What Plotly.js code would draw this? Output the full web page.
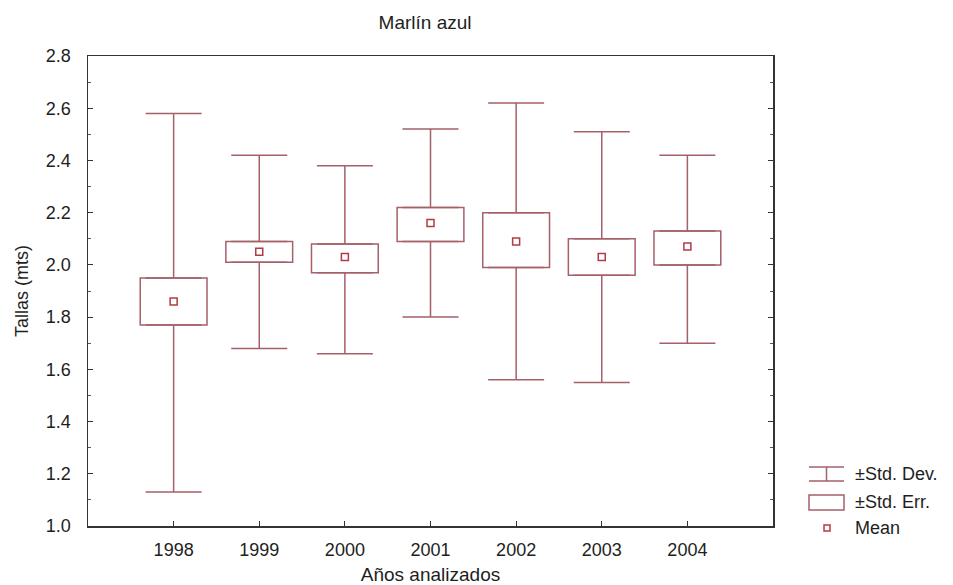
<!DOCTYPE html>
<html>
<head>
<meta charset="utf-8">
<script src="https://cdn.plot.ly/plotly-3.0.1.min.js"></script>
<style>html,body{margin:0;padding:0;background:#fff;}#chart{width:953px;height:585px;}</style>
</head>
<body>
<div id="chart"></div>
<script>
// Data (Tallas en metros)
var years = ['1998', '1999', '2000', '2001', '2002', '2003', '2004'];
var meanVals = [1.86, 2.05, 2.03, 2.16, 2.09, 2.03, 2.07];
var seLow  = [1.77, 2.01, 1.97, 2.09, 1.99, 1.96, 2.00];
var seHigh = [1.95, 2.09, 2.08, 2.22, 2.20, 2.10, 2.13];
var sdLow  = [1.13, 1.68, 1.66, 1.80, 1.56, 1.55, 1.70];
var sdHigh = [2.58, 2.42, 2.38, 2.52, 2.62, 2.51, 2.42];
var legendLabels = ['\u00b1Std. Dev.', '\u00b1Std. Err.', 'Mean'];

var markColor = '#a5606a';
var meanColor = '#b23c44';
var fontFam = '"Liberation Sans", Arial, sans-serif';
var txtColor = '#1e1e1e';

var seSpan = years.map(function (_, i) { return seHigh[i] - seLow[i]; });
var upExt = years.map(function (_, i) { return sdHigh[i] - seHigh[i]; });
var downExt = years.map(function (_, i) { return seLow[i] - sdLow[i]; });
var zeros = years.map(function () { return 0; });

// ±Std. Err. boxes
var seTrace = {
  type: 'bar',
  x: years,
  y: seSpan,
  base: seLow,
  width: 0.78,
  marker: {color: '#ffffff', line: {color: markColor, width: 1.5}},
  showlegend: false,
  hoverinfo: 'skip'
};

var capHalf = 28;
// ±Std. Dev. whiskers (upper part, from box top)
var sdUpTrace = {
  type: 'scatter', mode: 'markers',
  x: years, y: seHigh,
  marker: {size: 0.1, opacity: 0},
  error_y: {type: 'data', symmetric: false, array: upExt, arrayminus: zeros,
            width: capHalf, thickness: 1.5, color: markColor},
  showlegend: false, hoverinfo: 'skip'
};
// lower part, from box bottom
var sdDownTrace = {
  type: 'scatter', mode: 'markers',
  x: years, y: seLow,
  marker: {size: 0.1, opacity: 0},
  error_y: {type: 'data', symmetric: false, array: zeros, arrayminus: downExt,
            width: capHalf, thickness: 1.5, color: markColor},
  showlegend: false, hoverinfo: 'skip'
};

var meanTrace = {
  type: 'scatter',
  mode: 'markers',
  x: years,
  y: meanVals,
  marker: {symbol: 'square-open', size: 7, color: meanColor, line: {width: 1.5, color: meanColor}},
  showlegend: false,
  hoverinfo: 'skip'
};

// legend drawn in paper coordinates
var L = 88, R = 773, T = 56, B = 526;
function px(x) { return (x - L) / (R - L); }
function py(y) { return (B - y) / (B - T); }

var shapes = [
  {type: 'line', xref: 'paper', yref: 'paper', x0: px(809), x1: px(844), y0: py(467), y1: py(467), line: {color: markColor, width: 1.5}},
  {type: 'line', xref: 'paper', yref: 'paper', x0: px(809), x1: px(844), y0: py(481), y1: py(481), line: {color: markColor, width: 1.5}},
  {type: 'line', xref: 'paper', yref: 'paper', x0: px(826.5), x1: px(826.5), y0: py(467), y1: py(481), line: {color: markColor, width: 1.5}},
  {type: 'rect', xref: 'paper', yref: 'paper', x0: px(809), x1: px(844), y0: py(495), y1: py(510), line: {color: markColor, width: 1.5}, fillcolor: 'rgba(0,0,0,0)'},
  {type: 'rect', xref: 'paper', yref: 'paper', x0: px(824), x1: px(830), y0: py(525), y1: py(531), line: {color: meanColor, width: 1.5}, fillcolor: 'rgba(0,0,0,0)'}
];

var legendY = [474, 502, 528];
var annotations = legendLabels.map(function (t, i) {
  return {
    text: t, xref: 'paper', yref: 'paper', x: px(853), y: py(legendY[i]),
    xanchor: 'left', yanchor: 'middle', showarrow: false,
    font: {family: fontFam, size: 18, color: txtColor}
  };
});

var layout = {
  width: 953, height: 585,
  margin: {l: L, r: 953 - R, t: T, b: 585 - B},
  paper_bgcolor: '#ffffff',
  plot_bgcolor: '#ffffff',
  showlegend: false,
  barmode: 'overlay',
  font: {family: fontFam, size: 18, color: txtColor},
  title: {text: 'Marl\u00edn azul', x: 0.446, xanchor: 'center', y: 0.962, yanchor: 'middle',
          font: {family: fontFam, size: 19, color: txtColor}},
  xaxis: {
    type: 'category',
    range: [-1, 7],
    showgrid: false, zeroline: false,
    showline: true, linecolor: '#333', linewidth: 1.5, mirror: true,
    ticks: 'inside', ticklen: 5, tickcolor: '#333',
    ticklabelstandoff: 7,
    tickfont: {family: fontFam, size: 18, color: txtColor},
    title: {text: 'A\u00f1os analizados', standoff: 14, font: {family: fontFam, size: 19, color: txtColor}}
  },
  yaxis: {
    range: [1.0, 2.8],
    dtick: 0.2,
    tickformat: '.1f',
    showgrid: false, zeroline: false,
    showline: true, linecolor: '#333', linewidth: 1.5, mirror: 'allticks',
    ticks: 'inside', ticklen: 5, tickcolor: '#333',
    minor: {dtick: 0.1, ticks: 'inside', ticklen: 3, tickcolor: '#555'},
    ticklabelstandoff: 12,
    tickfont: {family: fontFam, size: 18, color: txtColor},
    title: {text: 'Tallas (mts)', standoff: 12, font: {family: fontFam, size: 18, color: txtColor}}
  },
  shapes: shapes,
  annotations: annotations
};

Plotly.newPlot('chart', [seTrace, sdUpTrace, sdDownTrace, meanTrace], layout, {displayModeBar: false, staticPlot: true});
</script>
</body>
</html>
